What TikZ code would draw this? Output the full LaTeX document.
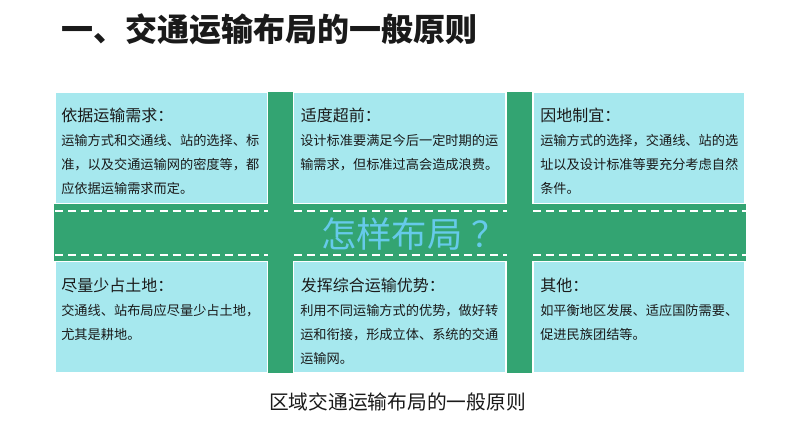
\documentclass[tikz,border=0pt]{standalone}
\usepackage{fontspec}
\setmainfont{Noto Sans CJK SC}
\definecolor{roadgreen}{HTML}{33A472}
\definecolor{panel}{HTML}{A6E8EE}
\definecolor{askblue}{HTML}{66CAEA}
\definecolor{ink}{HTML}{1A1A1A}
\tikzset{
  x=0.75pt,y=-0.75pt,
  panelbox/.style={fill=panel,draw=none},
  road/.style={fill=roadgreen,draw=none},
  lane/.style={draw=white,line width=1.5pt,dash pattern=on 6pt off 3.8pt},
  head/.style={anchor=west,inner sep=0pt,font=\fontsize{12pt}{14pt}\selectfont,text=ink},
  body/.style={anchor=north west,inner sep=0pt,align=left,text=ink,font=\fontsize{9.9pt}{18pt}\selectfont},
}
\begin{document}
\begin{tikzpicture}
\useasboundingbox (0,0) rectangle (794,447);
\fill[white] (0,0) rectangle (794,447);
% panels
\fill[panelbox] (56,93.3) rectangle (266.7,203.3);
\fill[panelbox] (294.3,93.3) rectangle (505.3,203.3);
\fill[panelbox] (534.3,93.3) rectangle (744,203.3);
\fill[panelbox] (56,262) rectangle (266.7,371.7);
\fill[panelbox] (294.3,262) rectangle (505.3,371.7);
\fill[panelbox] (534.3,262) rectangle (744,371.7);
% roads
\fill[road] (54.3,204.3) rectangle (745.7,260.7);
\fill[road] (267.7,92) rectangle (292.7,373.3);
\fill[road] (507,92) rectangle (532.3,373.3);
% lanes
\coordinate (a1) at (55,211); \coordinate (a2) at (268,211);
\coordinate (a3) at (294,211); \coordinate (a4) at (507,211);
\coordinate (a5) at (533,211); \coordinate (a6) at (746,211);
\coordinate (b1) at (55,254.5); \coordinate (b2) at (268,254.5);
\coordinate (b3) at (294,254.5); \coordinate (b4) at (507,254.5);
\coordinate (b5) at (533,254.5); \coordinate (b6) at (746,254.5);
\draw[lane] (a1)--(a2); \draw[lane] (a3)--(a4); \draw[lane] (a5)--(a6);
\draw[lane] (b1)--(b2); \draw[lane] (b3)--(b4); \draw[lane] (b5)--(b6);
% title & caption
\node (title) [anchor=west,inner sep=0pt,font=\fontsize{24pt}{28pt}\bfseries\selectfont,text=ink] at (61.5,29) {一、交通运输布局的一般原则};
\node (caption) [anchor=center,inner sep=0pt,font=\fontsize{14.8pt}{18pt}\selectfont,text=ink] at (397.5,402) {区域交通运输布局的一般原则};
\node (ask) [anchor=west,inner sep=0pt,font=\fontsize{26.5pt}{30pt}\selectfont,text=askblue] at (321,234) {怎样布局\kern0.25em？};
% panel 1
\node (h1) [head] at (61,115) {依据运输需求：};
\node (t1) [body] at (61,134.5) {运输方式和交通线、站的选择、标\\准，以及交通运输网的密度等，都\\应依据运输需求而定。};
% panel 2
\node (h2) [head] at (300.5,115) {适度超前：};
\node (t2) [body] at (300,134.5) {设计标准要满足今后一定时期的运\\输需求，但标准过高会造成浪费。};
% panel 3
\node (h3) [head] at (540,115) {因地制宜：};
\node (t3) [body] at (540,134.5) {运输方式的选择，交通线、站的选\\址以及设计标准等要充分考虑自然\\条件。};
% panel 4
\node (h4) [head] at (61,285) {尽量少占土地：};
\node (t4) [body] at (61,304.5) {交通线、站布局应尽量少占土地，\\尤其是耕地。};
% panel 5
\node (h5) [head] at (300.5,285) {发挥综合运输优势：};
\node (t5) [body] at (300,304.5) {利用不同运输方式的优势，做好转\\运和衔接，形成立体、系统的交通\\运输网。};
% panel 6
\node (h6) [head] at (540,285) {其他：};
\node (t6) [body] at (540,304.5) {如平衡地区发展、适应国防需要、\\促进民族团结等。};
\end{tikzpicture}
\end{document}
